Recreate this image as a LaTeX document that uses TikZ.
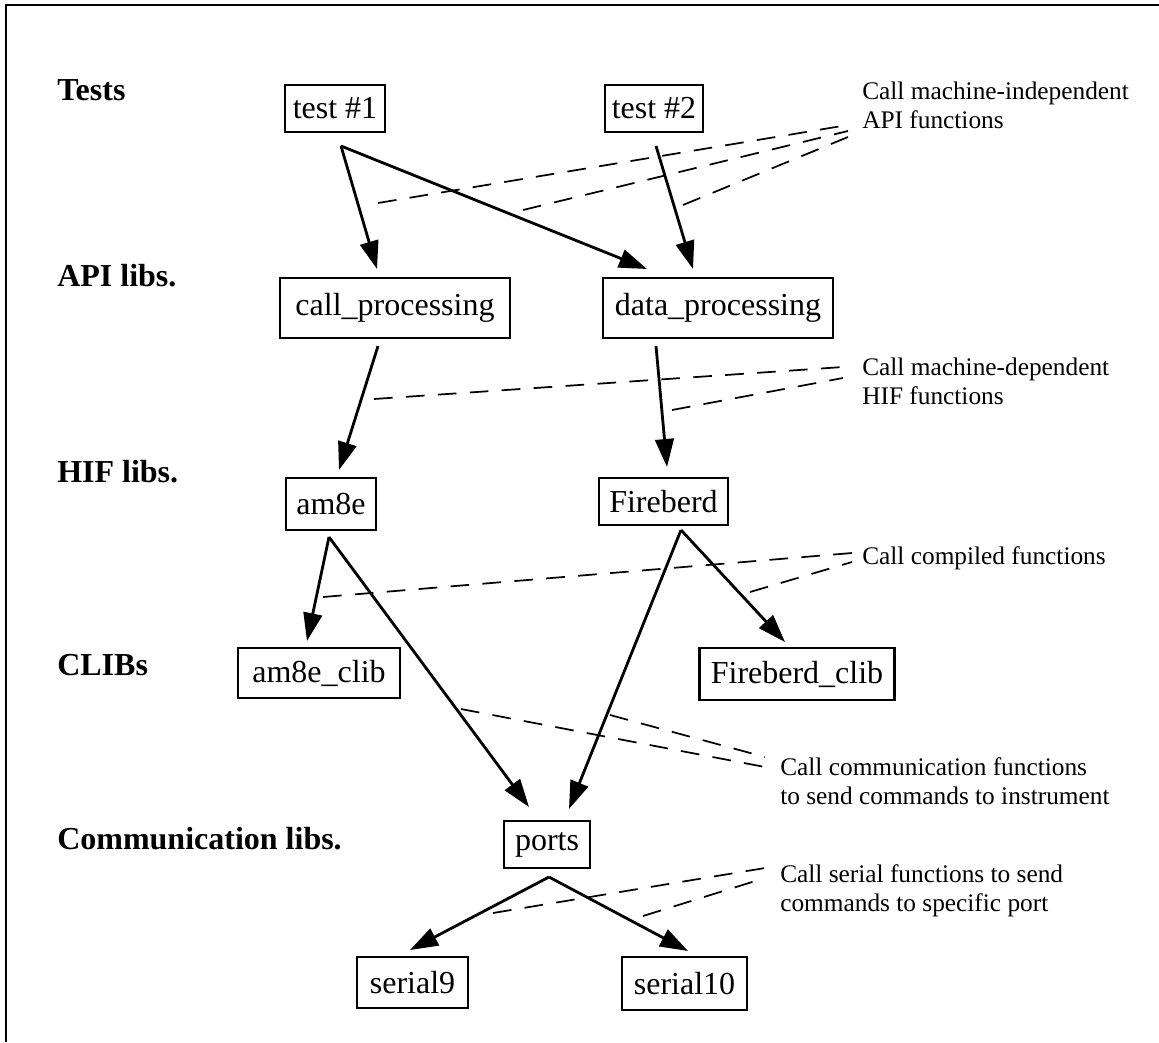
\documentclass[tikz,border=0pt]{standalone}
\usepackage{fontspec}
\setmainfont{Liberation Serif}
\usetikzlibrary{arrows.meta}
\begin{document}
\begin{tikzpicture}[x=0.75pt,y=-0.75pt,
  box/.style={draw, line width=2pt, inner sep=0pt, font=\fontsize{24}{28}\selectfont},
  lab/.style={anchor=base west, inner sep=0pt, font=\fontsize{24}{28}\selectfont\bfseries},
  ann/.style={anchor=north west, align=left, inner sep=0pt, font=\fontsize{19}{21.5}\selectfont},
  arr/.style={line width=2.1pt, -{Triangle[length=21pt,width=14pt]}},
  dsh/.style={line width=1.3pt, dash pattern=on 14pt off 10pt}]
\useasboundingbox (0,0) rectangle (1159,1042);
\draw[line width=2.2pt] (6,1042) -- (6,5) -- (1159,5);

% row labels
\node[lab] (lt) at (57,100) {Tests};
\node[lab] (la) at (57,286) {API libs.};
\node[lab] (lh) at (57,482) {HIF libs.};
\node[lab] (lc) at (57,675) {CLIBs};
\node[lab] (lm) at (57,849) {Communication libs.};

% boxes
\node[box, minimum width=75pt, minimum height=35.25pt] (t1) at (335,108.5) {test \#1};
\node[box, minimum width=73.5pt, minimum height=35.25pt] (t2) at (654,108.5) {test \#2};
\node[box, minimum width=172.5pt, minimum height=45pt] (cp) at (395,308) {call\_processing};
\node[box, minimum width=172.5pt, minimum height=45pt] (dp) at (718,308) {data\_processing};
\node[box, minimum width=67.5pt, minimum height=39pt] (am) at (331,504) {am8e};
\node[box, minimum width=96.75pt, minimum height=35.25pt] (fb) at (663.5,501.5) {Fireberd};
\node[box, minimum width=121.5pt, minimum height=37.5pt] (amc) at (319,673) {am8e\_clib};
\node[box, minimum width=146.25pt, minimum height=39pt] (fbc) at (797,674) {Fireberd\_clib};
\node[box, minimum width=64.5pt, minimum height=35.25pt] (pt) at (547,844.5) {ports};
\node[box, minimum width=83.25pt, minimum height=38.25pt] (s9) at (412.5,982.5) {serial9};
\node[box, minimum width=93.75pt, minimum height=39.75pt] (s10) at (684.5,983.5) {serial10};

% annotations
\node[ann] (a1) at (862,81.5) {Call machine-independent\\API functions};
\node[ann] (a2) at (862,357.5) {Call machine-dependent\\HIF functions};
\node[ann] (a3) at (862,546.5) {Call compiled functions};
\node[ann] (a4) at (780,757.5) {Call communication functions\\to send commands to instrument};
\node[ann] (a5) at (780,864.5) {Call serial functions to send\\commands to specific port};

% arrow end points (just outside the boxes)
\coordinate (t1o) at (341,146);
\coordinate (t2o) at (656,146);
\coordinate (cpo) at (378,346);
\coordinate (dpo) at (656,346);
\coordinate (amo) at (329,537);
\coordinate (fbo) at (681,530);
\coordinate (pto) at (549,877);
\coordinate (cpi) at (377,269);
\coordinate (dpi1) at (647,269);
\coordinate (dpi2) at (693,269);
\coordinate (ami) at (339,470);
\coordinate (fbi) at (667,467);
\coordinate (amci) at (307,641);
\coordinate (pti1) at (529,807);
\coordinate (pti2) at (569,809);
\coordinate (fbci) at (785,642);
\coordinate (s9i) at (410,950);
\coordinate (s10i) at (688,951);

\draw[arr] (t1o) -- (cpi);
\draw[arr] (t1o) -- (dpi1);
\draw[arr] (t2o) -- (dpi2);
\draw[arr] (cpo) -- (ami);
\draw[arr] (dpo) -- (fbi);
\draw[arr] (amo) -- (amci);
\draw[arr] (amo) -- (pti1);
\draw[arr] (fbo) -- (pti2);
\draw[arr] (fbo) -- (fbci);
\draw[arr] (pto) -- (s9i);
\draw[arr] (pto) -- (s10i);

% dashed leader lines
\draw[dsh] (378,203) -- (848,125);
\draw[dsh] (523,210) -- (848,131);
\draw[dsh] (683,205) -- (848,137);
\draw[dsh] (374,399) -- (843,367);
\draw[dsh] (672,410) -- (843,378);
\draw[dsh] (323,597) -- (852,553);
\draw[dsh] (750,592) -- (852,562);
\draw[dsh] (461,709) -- (765,767);
\draw[dsh] (610,715) -- (765,757);
\draw[dsh] (493,913) -- (765,868);
\draw[dsh] (643,916) -- (765,878);
\end{tikzpicture}
\end{document}
